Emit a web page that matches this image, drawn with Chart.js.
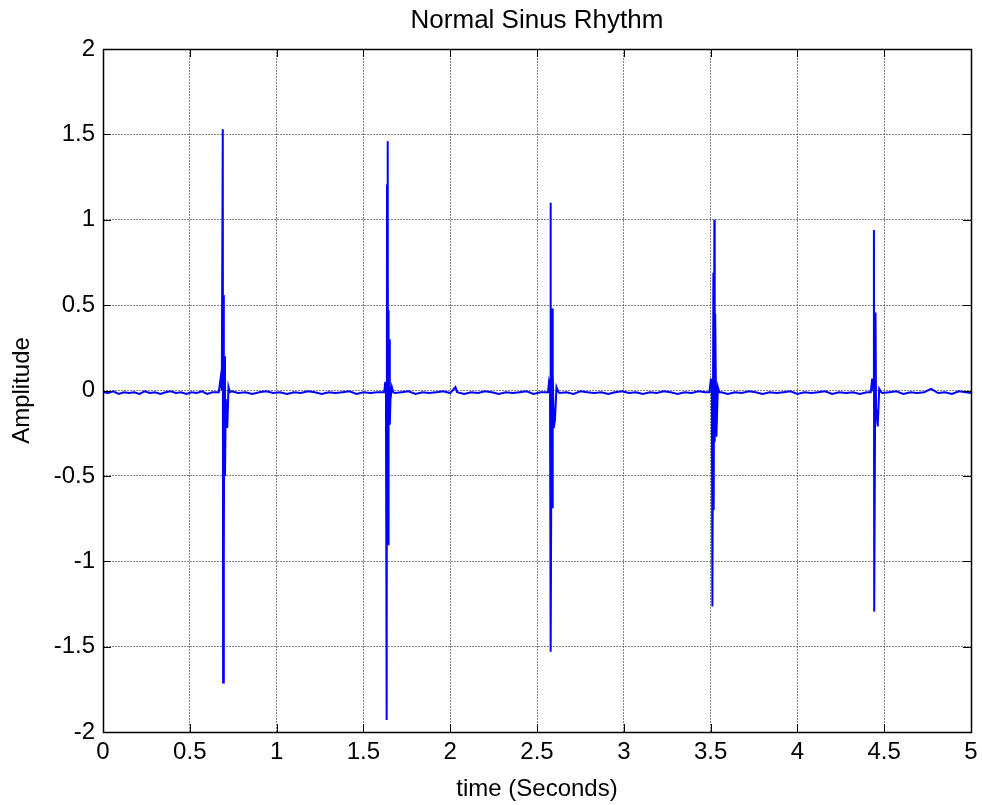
<!DOCTYPE html>
<html>
<head>
<meta charset="utf-8">
<script src="https://cdn.jsdelivr.net/npm/chart.js@4/dist/chart.umd.min.js"></script>
<style>
  html, body { margin: 0; padding: 0; background: #fff; }
  canvas { display: block; }
</style>
</head>
<body>
<canvas id="ecg" width="982" height="805"></canvas>
<script>
// Data
const CHART_TITLE = 'Normal Sinus Rhythm';
const X_LABEL = 'time (Seconds)';
const Y_LABEL = 'Amplitude';
const X_TICKS = [0, 0.5, 1, 1.5, 2, 2.5, 3, 3.5, 4, 4.5, 5];
const Y_TICKS = [-2, -1.5, -1, -0.5, 0, 0.5, 1, 1.5, 2];

const timeSec = [
  // baseline
  0, 0.03, 0.06, 0.09, 0.12, 0.15, 0.18, 0.21, 0.24, 0.27, 0.30, 0.33, 0.36, 0.39, 0.42, 0.45, 0.48, 0.51, 0.54, 0.57, 0.60, 0.63,
  // beat 1
  0.667, 0.6786, 0.6843, 0.690, 0.6918, 0.6947, 0.697, 0.6993, 0.7027, 0.7073, 0.716, 0.7229, 0.7303,
  // baseline
  0.74, 0.78, 0.82, 0.86, 0.90, 0.94, 0.98, 1.02, 1.06, 1.10, 1.14, 1.18, 1.22, 1.26, 1.30, 1.34, 1.38, 1.42, 1.46, 1.50, 1.54, 1.58,
  // beat 2
  1.620, 1.626, 1.630, 1.634, 1.636, 1.640, 1.642, 1.644, 1.646, 1.648, 1.652, 1.656, 1.664, 1.672,
  // baseline
  1.68, 1.72, 1.76, 1.80, 1.84, 1.88, 1.92, 1.96, 2.00, 2.03, 2.04, 2.08, 2.12, 2.16, 2.20, 2.24, 2.28, 2.32, 2.36, 2.40, 2.44, 2.48, 2.52,
  // beat 3
  2.5635, 2.5693, 2.575, 2.578, 2.5795, 2.5835, 2.5875, 2.589, 2.592, 2.5967, 2.6036, 2.6122, 2.624,
  // baseline
  2.63, 2.67, 2.71, 2.75, 2.79, 2.83, 2.87, 2.91, 2.95, 2.99, 3.03, 3.07, 3.11, 3.15, 3.19, 3.23, 3.27, 3.31, 3.35, 3.39, 3.43, 3.47,
  // beat 4
  3.4931, 3.5017, 3.5075, 3.5103, 3.5161, 3.5178, 3.5218, 3.5236, 3.5264, 3.5333, 3.5419, 3.5505,
  // baseline
  3.56, 3.60, 3.64, 3.68, 3.72, 3.76, 3.80, 3.84, 3.88, 3.92, 3.96, 4.00, 4.04, 4.08, 4.12, 4.16, 4.20, 4.24, 4.28, 4.32, 4.36, 4.40,
  // beat 5
  4.4224, 4.431, 4.4368, 4.4408, 4.4425, 4.45, 4.4529, 4.4627, 4.4714, 4.4829,
  // baseline
  4.49, 4.53, 4.57, 4.61, 4.65, 4.69, 4.73, 4.77, 4.81, 4.85, 4.89, 4.93, 4.97, 5.0
];

const amplitude = [
  -0.01, -0.015, -0.005, -0.02, -0.01, -0.015, -0.01, -0.02, -0.005, -0.015, -0.01, -0.02, -0.01, -0.005, -0.015, -0.01, -0.02, -0.01, -0.015, -0.005, -0.02, -0.01,
  -0.01, 0.08, 0.0, 1.53, -1.71, 0.56, -1.0, 0.2, -0.5, -0.05, -0.22, 0.02, -0.01,
  -0.005, -0.015, -0.01, -0.02, -0.01, -0.005, -0.015, -0.01, -0.02, -0.01, -0.015, -0.005, -0.01, -0.02, -0.01, -0.015, -0.01, -0.005, -0.02, -0.01, -0.015, -0.01,
  -0.01, 0.05, 0.0, -1.93, 1.2, 1.46, -0.9, 0.47, -0.22, 0.3, -0.2, -0.05, 0.02, -0.01,
  -0.015, -0.01, -0.005, -0.02, -0.01, -0.015, -0.01, -0.005, -0.015, 0.02, -0.01, -0.02, -0.01, -0.015, -0.005, -0.01, -0.02, -0.01, -0.015, -0.01, -0.005, -0.02, -0.01,
  -0.01, 0.05, 0.02, 1.10, -1.53, -0.2, 0.48, -0.69, 0.1, -0.22, -0.17, 0.02, -0.01,
  -0.015, -0.01, -0.02, -0.005, -0.01, -0.015, -0.01, -0.02, -0.01, -0.005, -0.015, -0.01, -0.02, -0.01, -0.015, -0.005, -0.01, -0.02, -0.01, -0.015, -0.005, -0.01,
  -0.01, 0.07, 0.0, -1.265, 0.69, -0.70, 1.0, -0.3, 0.45, -0.27, 0.02, -0.01,
  -0.01, -0.02, -0.01, -0.015, -0.005, -0.01, -0.02, -0.01, -0.015, -0.01, -0.005, -0.02, -0.01, -0.015, -0.01, -0.005, -0.02, -0.01, -0.015, -0.01, -0.02, -0.01,
  -0.01, 0.07, 0.0, 0.94, -1.295, 0.457, -0.1, -0.21, 0.01, -0.01,
  -0.015, -0.01, -0.005, -0.02, -0.01, -0.015, -0.01, 0.01, -0.015, -0.01, -0.02, -0.005, -0.01, -0.015
];

// Styles
const FONT = 'Arial, "Liberation Sans", Helvetica, sans-serif';
const LINE_COLOR = '#0000ff';
const GRID_COLOR = 'rgba(100, 100, 100, 0.8)';
const TICK_LEN = 8;

// MATLAB-like frame, inward ticks and title
const matlabFrame = {
  id: 'matlabFrame',
  afterDraw(chart) {
    const { ctx, chartArea: a, scales } = chart;
    ctx.save();
    ctx.strokeStyle = '#000';
    ctx.lineWidth = 1;
    ctx.beginPath();
    X_TICKS.forEach(v => {
      const px = Math.round(scales.x.getPixelForValue(v)) + 0.5;
      ctx.moveTo(px, a.bottom); ctx.lineTo(px, a.bottom - TICK_LEN);
      ctx.moveTo(px, a.top); ctx.lineTo(px, a.top + TICK_LEN);
    });
    Y_TICKS.forEach(v => {
      const py = Math.round(scales.y.getPixelForValue(v)) + 0.5;
      ctx.moveTo(a.left, py); ctx.lineTo(a.left + TICK_LEN, py);
      ctx.moveTo(a.right, py); ctx.lineTo(a.right - TICK_LEN, py);
    });
    ctx.stroke();
    ctx.lineWidth = 1.5;
    ctx.strokeRect(Math.round(a.left) + 0.5, Math.round(a.top) + 0.5,
      Math.round(a.right - a.left), Math.round(a.bottom - a.top));

    ctx.fillStyle = '#000';
    ctx.font = '26px ' + FONT;
    ctx.textAlign = 'center';
    ctx.textBaseline = 'middle';
    ctx.fillText(CHART_TITLE, (a.left + a.right) / 2, 21);
    ctx.restore();
  }
};

const points = timeSec.map((t, i) => ({ x: t, y: amplitude[i] }));

new Chart(document.getElementById('ecg'), {
  type: 'line',
  data: {
    datasets: [{
      data: points,
      borderColor: LINE_COLOR,
      borderWidth: 2,
      pointRadius: 0,
      tension: 0,
      fill: false
    }]
  },
  options: {
    responsive: false,
    animation: false,
    layout: { padding: { top: 49, right: 11, bottom: 0, left: 0 } },
    plugins: { legend: { display: false }, tooltip: { enabled: false }, title: { display: false } },
    scales: {
      x: {
        type: 'linear',
        min: 0,
        max: 5,
        afterBuildTicks: (s) => { s.ticks = X_TICKS.map(v => ({ value: v })); },
        afterFit: (s) => { s.height = 73; s.paddingLeft = 0; s.paddingRight = 0; },
        ticks: { color: '#000', font: { family: FONT, size: 24 }, padding: 6, maxRotation: 0, callback: (v) => String(v) },
        grid: { color: GRID_COLOR, drawTicks: false },
        border: { display: false, dash: [2, 1] },
        title: { display: true, text: X_LABEL, color: '#000', font: { family: FONT, size: 24 }, padding: { top: 0, bottom: 1 } }
      },
      y: {
        type: 'linear',
        min: -2,
        max: 2,
        afterBuildTicks: (s) => { s.ticks = Y_TICKS.map(v => ({ value: v })); },
        afterFit: (s) => { s.width = 103; s.paddingTop = 0; s.paddingBottom = 0; },
        ticks: { color: '#000', font: { family: FONT, size: 24 }, padding: 8, callback: (v) => String(v) },
        grid: { color: GRID_COLOR, drawTicks: false },
        border: { display: false, dash: [2, 1] },
        title: { display: true, text: Y_LABEL, color: '#000', font: { family: FONT, size: 24 }, padding: { top: 8, bottom: 0 } }
      }
    }
  },
  plugins: [matlabFrame]
});
</script>
</body>
</html>
